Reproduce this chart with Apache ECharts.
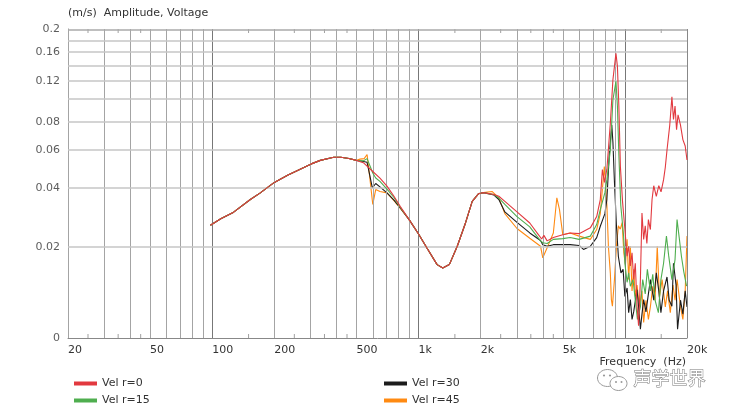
<!DOCTYPE html>
<html><head><meta charset="utf-8">
<script src="https://cdn.jsdelivr.net/npm/echarts@6/dist/echarts.min.js"></script>
<style>html,body{margin:0;padding:0;background:#fff}#c{width:729px;height:411px}</style>
</head><body><div id="c"></div>
<script>
// ---------- data (frequency Hz, velocity m/s) ----------
const baseLow = [[98,0.0262],[110,0.0283],[127,0.0305],[153,0.0352],[171,0.0379],[200,0.0425],[233,0.046],[267,0.049],[300,0.0517],[334,0.0538],[388,0.0556],[420,0.0556],[460,0.0549],[500,0.0538]];
const baseMid = [[900,0.028],[1000,0.0236],[1100,0.0198],[1230,0.016],[1310,0.0153],[1410,0.016],[1540,0.0203],[1690,0.027],[1820,0.0345],[1950,0.0375],[2060,0.038]];

const redA = [[540,0.0525],[600,0.0478],[650,0.0445],[703,0.0408],[760,0.0365],[816,0.0325]];
const redB = [[2320,0.0372],[2450,0.0365],[2620,0.0345],[3000,0.0306],[3460,0.0269],[3800,0.0235],[3950,0.0222],[4050,0.0232],[4200,0.0217],[4500,0.0226],[5000,0.0234],[5430,0.0239],[6000,0.0237],[6800,0.0254],[7300,0.029],[7600,0.0352],[7780,0.0488],[7960,0.0425],[8180,0.049],[8500,0.079],[8750,0.122],[9050,0.158],[9200,0.139],[9350,0.094],[9510,0.0504],[9750,0.034],[10000,0.025],[10250,0.0179],[10430,0.0203],[10630,0.0157],[10830,0.0187],[11030,0.013],[11230,0.0163],[11450,0.0086],[11650,0.006],[11890,0.013],[12100,0.0302],[12330,0.0221],[12550,0.026],[12780,0.021],[13000,0.028],[13290,0.0249],[13540,0.0352],[13800,0.041],[14200,0.0365],[14600,0.041],[14970,0.0383],[15400,0.0438],[15700,0.05],[16000,0.06],[16500,0.0775],[16900,0.103],[17200,0.082],[17500,0.094],[17800,0.074],[18100,0.086],[18600,0.0775],[19100,0.0668],[19600,0.0625],[20000,0.054]];

const greenA = [[540,0.0535],[563,0.0548],[585,0.05],[600,0.047],[620,0.0446],[650,0.043],[703,0.0395],[760,0.036],[816,0.0322]];
const greenB = [[2320,0.0372],[2450,0.0358],[2620,0.0333],[3000,0.029],[3460,0.0257],[3900,0.0217],[4000,0.0212],[4200,0.021],[4500,0.0221],[5000,0.0223],[5430,0.0226],[6000,0.0221],[6800,0.023],[7300,0.0264],[7600,0.0314],[8000,0.038],[8180,0.0438],[8500,0.06],[8750,0.10],[9050,0.12],[9200,0.094],[9350,0.057],[9550,0.033],[9860,0.023],[10000,0.0163],[10250,0.0125],[10430,0.0143],[10630,0.0118],[10950,0.013],[11230,0.0096],[11500,0.0068],[11890,0.0085],[12200,0.013],[12550,0.0105],[12850,0.015],[13290,0.011],[13650,0.014],[14000,0.0095],[14530,0.0077],[14950,0.013],[15400,0.0163],[15900,0.023],[16300,0.018],[16900,0.013],[17500,0.0171],[17900,0.028],[18300,0.0275],[18800,0.0178],[19300,0.0145],[19900,0.0118]];

const blackA = [[540,0.0532],[563,0.0527],[580,0.046],[597,0.040],[620,0.042],[650,0.0405],[703,0.0379],[760,0.035],[816,0.032]];
const blackB = [[2320,0.037],[2450,0.0352],[2620,0.0306],[3000,0.0271],[3460,0.0239],[3900,0.0218],[4000,0.0207],[4200,0.0203],[4500,0.0207],[5000,0.0207],[5430,0.0207],[6000,0.0205],[6300,0.0195],[6800,0.0203],[7300,0.0226],[7600,0.0259],[8000,0.03],[8180,0.0352],[8400,0.057],[8640,0.0775],[8750,0.065],[8890,0.0438],[9100,0.026],[9300,0.0178],[9570,0.0143],[9800,0.015],[10000,0.0101],[10250,0.0115],[10430,0.0077],[10630,0.0096],[10830,0.0068],[11030,0.0078],[11450,0.0112],[11650,0.0085],[11890,0.0056],[12100,0.0075],[12330,0.0096],[12650,0.0078],[13000,0.0105],[13300,0.013],[13800,0.0095],[14200,0.0143],[14600,0.011],[14950,0.0077],[15400,0.011],[16000,0.0135],[16400,0.0095],[16900,0.0086],[17200,0.0163],[17700,0.012],[18000,0.0056],[18600,0.0095],[19100,0.0075],[19600,0.011],[20000,0.0085]];

const orangeA = [[520,0.0545],[545,0.0548],[563,0.0572],[580,0.045],[600,0.0333],[620,0.0393],[650,0.0385],[703,0.0379],[760,0.0348],[816,0.0318]];
const orangeB = [[2270,0.0385],[2450,0.0358],[2620,0.030],[3000,0.0252],[3460,0.0224],[3900,0.0203],[4000,0.0175],[4200,0.0199],[4500,0.0239],[4680,0.0359],[4820,0.0314],[5000,0.0234],[5430,0.0239],[6000,0.023],[6800,0.0221],[7300,0.0249],[7600,0.03],[7950,0.0504],[8180,0.033],[8320,0.0203],[8500,0.0143],[8600,0.0096],[8700,0.0086],[8900,0.013],[9100,0.0203],[9300,0.026],[9500,0.025],[9700,0.027],[9880,0.0187],[10060,0.016],[10250,0.0221],[10430,0.013],[10630,0.0203],[10830,0.011],[11030,0.015],[11230,0.0101],[11450,0.012],[11750,0.0086],[12100,0.011],[12330,0.0064],[12650,0.0095],[13000,0.0068],[13290,0.0085],[13650,0.0118],[14000,0.0095],[14350,0.0203],[14700,0.010],[15150,0.013],[15700,0.0085],[16100,0.011],[16600,0.0077],[17100,0.012],[17500,0.0095],[17900,0.013],[18600,0.0085],[19100,0.0068],[19600,0.011],[20000,0.023]];

const seriesNames = ['Vel r=0','Vel r=15','Vel r=30','Vel r=45'];

// ---------- axis ticks ----------
const xGridValues = [20,30,40,50,60,70,80,90,100,200,300,400,500,600,700,800,900,1000,2000,3000,4000,5000,6000,7000,8000,9000,10000,20000];
const xDecadeValues = [100,1000,10000];
const xLabelValues = [20,50,100,200,500,1000,2000,5000,10000,20000];
const xLabelTexts = ['20','50','100','200','500','1k','2k','5k','10k','20k'];
const xMinorTicks = [25,35,45,150,250,350,450,1500,2500,3500,4500,15000];
const yGridValues = [0.02,0.04,0.06,0.08,0.1,0.12,0.14,0.16,0.18,0.2];
const yLabelValues = [0,0.02,0.04,0.06,0.08,0.12,0.16,0.2];
const yLabelTexts = ['0','0.02','0.04','0.06','0.08','0.12','0.16','0.2'];

// ---------- y scale (display transform of the source chart) ----------
const Y_SHIFT = 0.007, Y_FLOOR = 0.0046, Y_TOP = 0.2;
const ty = v => Math.log(Math.max(v, Y_FLOOR) + Y_SHIFT);
const toXY = arr => arr.map(p => [p[0], ty(p[1])]);

const FONT = 'DejaVu Sans';
const labelColor = '#333';

const xGridData = xGridValues.map(f => {
  const li = xLabelValues.indexOf(f);
  const d = {
    xAxis: f,
    lineStyle: {color: xDecadeValues.includes(f) ? '#777' : (f === 20000 ? '#888' : '#a4a4a4'), width: 1, type: 'solid'},
    label: {show: false}
  };
  if (li >= 0) d.label = {show: true, position: 'start', formatter: xLabelTexts[li], align: 'left', distance: 7, color: labelColor, fontSize: 11, fontFamily: FONT};
  return d;
});
const yGridData = yGridValues.map(v => ({yAxis: ty(v), lineStyle: {color: v === Y_TOP ? '#aaa' : '#c6c6c6', width: 1.5, type: 'solid'}, label: {show: false}}));

const chart = echarts.init(document.getElementById('c'), null, {renderer: 'canvas'});

const colors = ['#e2393f', '#4fae4f', '#1c1c1c', '#ff8a12'];
const zOrder = [6, 5, 4, 3];
const curves = [
  baseLow.concat(redA, baseMid, redB),
  baseLow.concat(greenA, baseMid, greenB),
  baseLow.concat(blackA, baseMid, blackB),
  baseLow.concat(orangeA, baseMid, orangeB)
];

const option = {
  animation: false,
  backgroundColor: '#fff',
  textStyle: {fontFamily: FONT},
  title: {text: '(m/s)  Amplitude, Voltage', left: 68, top: 8, padding: 0, textStyle: {fontSize: 11, fontWeight: 'normal', color: labelColor, fontFamily: FONT}},
  grid: {left: 68, right: 42, top: 29, bottom: 73, containLabel: false},
  xAxis: {type: 'log', logBase: 10, min: 20, max: 20000, axisLabel: {show: false}, axisTick: {show: false}, splitLine: {show: false}, minorTick: {show: false},
    axisLine: {show: true, lineStyle: {color: '#888', width: 1}}},
  yAxis: {type: 'value', min: ty(Y_FLOOR), max: ty(Y_TOP), axisLabel: {show: false}, axisTick: {show: false}, splitLine: {show: false},
    axisLine: {show: true, lineStyle: {color: '#888', width: 1}}},
  legend: [
    {data: seriesNames.slice(0, 2), left: 69, top: 373, orient: 'vertical', itemWidth: 23, itemHeight: 4, itemGap: 6, icon: 'rect',
      textStyle: {fontSize: 11, color: labelColor, fontFamily: FONT}},
    {data: seriesNames.slice(2, 4), left: 379, top: 373, orient: 'vertical', itemWidth: 23, itemHeight: 4, itemGap: 6, icon: 'rect',
      textStyle: {fontSize: 11, color: labelColor, fontFamily: FONT}}
  ],
  graphic: [
    {type: 'text', right: 43, top: 357, style: {text: 'Frequency  (Hz)', fill: labelColor, font: '11px "DejaVu Sans"'}},
    {type: 'group', left: 597, top: 369, children: [
      {type: 'ellipse', shape: {cx: 10, cy: 9, rx: 10, ry: 8.5}, style: {fill: '#fff', stroke: '#999', lineWidth: 1}},
      {type: 'ellipse', shape: {cx: 21, cy: 14.5, rx: 8.5, ry: 7}, style: {fill: '#fff', stroke: '#999', lineWidth: 1}},
      {type: 'circle', shape: {cx: 6.5, cy: 6.5, r: 1.1}, style: {fill: '#999'}},
      {type: 'circle', shape: {cx: 12.5, cy: 6.5, r: 1.1}, style: {fill: '#999'}},
      {type: 'circle', shape: {cx: 18.5, cy: 13, r: 1}, style: {fill: '#999'}},
      {type: 'circle', shape: {cx: 24, cy: 13, r: 1}, style: {fill: '#999'}}
    ]},
    {type: 'text', left: 633, top: 369, style: {text: '声学世界', fill: '#fff', stroke: '#7a7a7a', lineWidth: 1, font: '18px "Noto Sans CJK SC"'}}
  ],
  series: [
    {type: 'line', name: '_grid', data: [[20, ty(Y_FLOOR)]], symbol: 'none', lineStyle: {opacity: 0}, z: 1, silent: true,
      markLine: {silent: true, symbol: ['none', 'none'], animation: false, data: xGridData.concat(yGridData)}},
    // y tick labels: invisible points at each labelled value, label drawn to the left of the axis
    {type: 'scatter', name: '_ylabels', data: yLabelValues.map((v, i) => ({value: [20, ty(v)], name: yLabelTexts[i]})),
      symbolSize: 0, silent: true, z: 7, clip: false,
      label: {show: true, position: 'left', distance: 8, formatter: p => p.name, color: labelColor, fontSize: 11, fontFamily: FONT}},
    {type: 'scatter', name: '_ticksB', data: xMinorTicks.map(f => [f, ty(Y_FLOOR)]), symbol: 'rect', symbolSize: [1, 4], symbolOffset: [0, -2], itemStyle: {color: '#888'}, z: 1, silent: true},
    {type: 'scatter', name: '_ticksT', data: xMinorTicks.map(f => [f, ty(Y_TOP)]), symbol: 'rect', symbolSize: [1, 4], symbolOffset: [0, 2], itemStyle: {color: '#888'}, z: 1, silent: true}
  ].concat(curves.map((c, i) => ({
    type: 'line', name: seriesNames[i], data: toXY(c), showSymbol: false, symbol: 'none',
    lineStyle: {color: colors[i], width: 1.1}, itemStyle: {color: colors[i]}, z: zOrder[i], clip: true
  })))
};
chart.setOption(option);
</script>
</body></html>
